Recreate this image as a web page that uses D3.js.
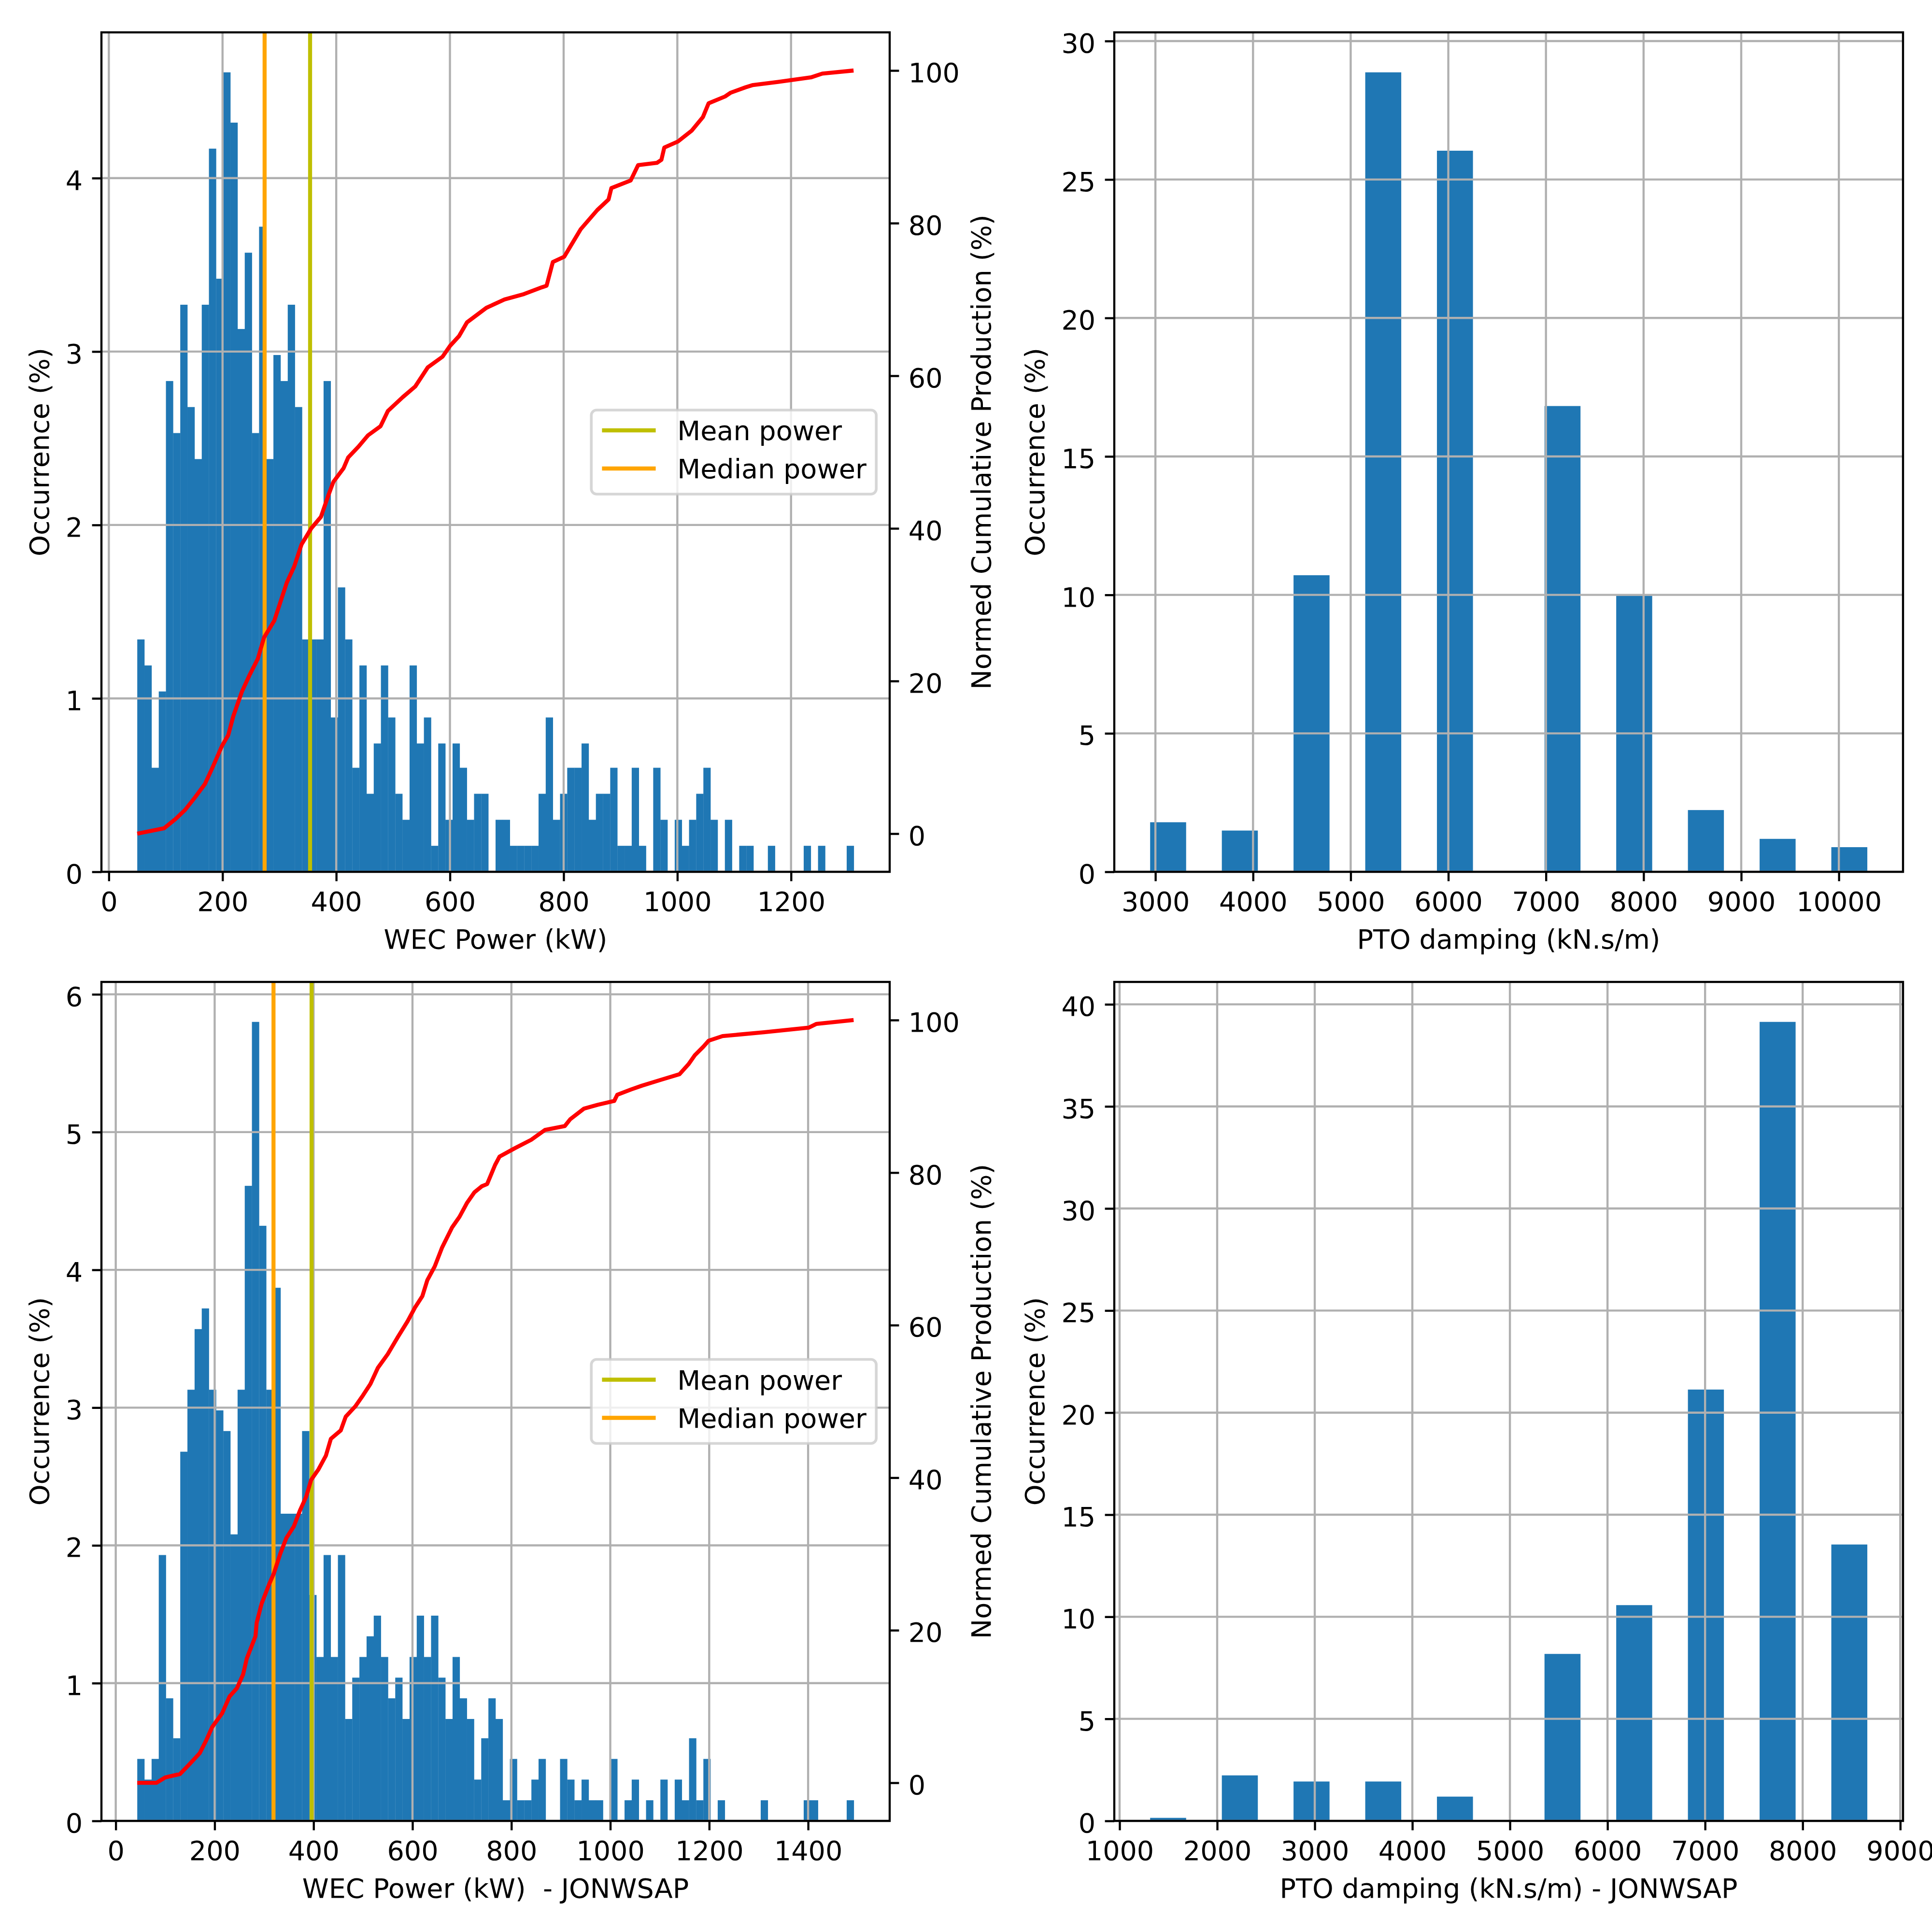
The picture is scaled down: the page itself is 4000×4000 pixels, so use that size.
<!DOCTYPE html>
<html>
<head>
<meta charset="utf-8">
<script src="https://cdn.jsdelivr.net/npm/d3@7"></script>
<style>
  body { margin: 0; background: #fff; }
  svg text { font-family: "DejaVu Sans", sans-serif; fill: #000; white-space: pre; }
</style>
</head>
<body>
<svg id="fig" width="4000" height="4000"></svg>
<script>
// ---- Data ----

// WEC power histogram (100 bins, occurrence %) - standard spectrum
var powerRange = [50, 1310.5];
var powerOccurrence = [
  1.34,1.19,0.60,1.04,2.83,2.53,3.27,2.68,2.38,3.27,
  4.17,3.42,4.61,4.32,3.13,3.57,2.53,3.72,2.38,2.98,
  2.83,3.27,2.68,1.34,1.34,1.34,2.83,0.89,1.64,1.34,
  0.60,1.19,0.45,0.74,1.19,0.89,0.45,0.30,1.19,0.74,
  0.89,0.15,0.74,0.30,0.74,0.60,0.30,0.45,0.45,0,
  0.30,0.30,0.15,0.15,0.15,0.15,0.45,0.89,0.30,0.45,
  0.60,0.60,0.74,0.30,0.45,0.45,0.60,0.15,0.15,0.60,
  0.15,0,0.60,0.30,0,0.30,0.15,0.30,0.45,0.60,
  0.30,0,0.30,0,0.15,0.15,0,0,0.15,0,
  0,0,0,0.15,0,0.15,0,0,0,0.15
];
var powerMean = 354, powerMedian = 274;
var cumPower = [50,97,117,134,151,169,182,199,210,219,234,247,262,273,291,302,313,326,339,356,373,386,395,413,421,439,456,478,491,517,539,561,587,600,616,630,664,696,730,762,770,781,801,830,859,879,884,918,931,964,972,977,1001,1025,1045,1055,1084,1094,1120,1133,1177,1235,1255,1310];
var cumProd  = [0,0.7,1.9,3.1,4.7,6.5,8.6,11.5,12.9,15.4,18.6,20.7,22.9,25.7,27.9,30.4,32.9,35.0,37.9,40.0,41.5,44.3,46.1,47.9,49.3,50.7,52.2,53.4,55.4,57.2,58.6,61.1,62.5,63.9,65.2,67.0,68.9,70.0,70.7,71.6,71.8,74.9,75.6,79.2,81.7,83.1,84.6,85.6,87.6,87.9,88.3,89.9,90.7,92.1,93.9,95.7,96.6,97.1,97.8,98.1,98.5,99.1,99.6,100];

// WEC power histogram - JONSWAP
var powerRangeJ = [43.5, 1492.5];
var powerOccurrenceJ = [
  0.45,0.30,0.45,1.93,0.89,0.60,2.68,3.13,3.57,3.72,
  3.13,2.98,2.83,2.08,3.13,4.61,5.80,4.32,3.13,3.87,
  2.23,2.23,2.23,2.83,1.64,1.19,1.93,1.19,1.93,0.74,
  1.04,1.19,1.34,1.49,1.19,0.89,1.04,0.74,1.19,1.49,
  1.19,1.49,1.04,0.74,1.19,0.89,0.74,0.30,0.60,0.89,
  0.74,0.15,0.45,0.15,0.15,0.30,0.45,0,0,0.45,
  0.30,0.15,0.30,0.15,0.15,0,0.45,0,0.15,0.30,
  0,0.15,0,0.30,0,0.30,0.15,0.60,0.15,0.45,
  0,0.15,0,0,0,0,0,0.15,0,0,
  0,0,0,0.15,0.15,0,0,0,0,0.15
];
var powerMeanJ = 396, powerMedianJ = 319;
var cumPowerJ = [43.5,82.5,100,130,150,170,182.5,195,215,230,245,257.5,265,282.5,285,295,310,320,332.5,345,360,372.5,385,395,410,425,435,455,465,485,500,515,530,550,570,590,605,620,630,645,660,680,695,710,725,740,751,767,776,807,840,868,908,919,947,975,1008,1014,1042,1064,1104,1140,1158,1171,1188,1199,1227,1311,1401,1417,1492];
var cumProdJ  = [0,0,0.7,1.15,2.5,3.9,5.5,7.3,9.1,11.3,12.4,14.2,16.3,19.2,21.0,23.5,26.0,27.5,30.0,32.1,33.6,35.7,37.5,39.7,41.1,42.9,45.1,46.2,48.0,49.4,50.8,52.3,54.4,56.2,58.4,60.5,62.3,63.8,65.9,67.7,70.2,72.8,74.2,76.0,77.4,78.2,78.5,81.0,82.1,83.2,84.3,85.6,86.1,87.0,88.4,88.9,89.4,90.2,90.9,91.4,92.2,92.9,94.2,95.4,96.5,97.3,97.9,98.4,99.0,99.5,100];

// PTO damping histograms (20 bins, occurrence %)
var dampRange = [2946, 10290];
var dampOccurrence = [1.79,0,1.49,0,10.71,0,28.87,0,26.04,0,0,16.82,0,9.97,0,2.23,0,1.19,0,0.89];
var dampRangeJ = [1313, 8661];
var dampOccurrenceJ = [0.15,0,2.23,0,1.93,0,1.93,0,1.19,0,0,8.18,0,10.57,0,21.13,0,39.14,0,13.54];

// Tick labels
var powerTicks = [0,200,400,600,800,1000,1200];
var powerTicksJ = [0,200,400,600,800,1000,1200,1400];
var dampTicks = [3000,4000,5000,6000,7000,8000,9000,10000];
var dampTicksJ = [1000,2000,3000,4000,5000,6000,7000,8000,9000];
var cumTicks = [0,20,40,60,80,100];

// ---- Style (matplotlib defaults at 400 dpi) ----
var FS = 55.6, TICK = 19.4, PAD = 19.4, LW = 4.4, LINE = 8.3
  , GRID = "#b0b0b0", BLUE = "#1f77b4", MEAN = "#bfbf00", MEDIAN = "#ffa500";

var svg = d3.select("#fig");
svg.append("rect").attr("width", 4000).attr("height", 4000).attr("fill", "#fff");

function styleAxis(ag) {
  ag.select(".domain").remove();
  ag.attr("font-size", FS).attr("font-family", "DejaVu Sans");
  ag.selectAll(".tick line").attr("stroke", "#000").attr("stroke-width", LW);
}

function maxWidth(sel) {
  var w = 0;
  sel.selectAll(".tick text").each(function () { w = Math.max(w, this.getBBox().width); });
  return w;
}

// One histogram panel; returns scales for overlays
function histPanel(box, o) {
  var g = svg.append("g");
  var W = o.range[1] - o.range[0];
  var x = d3.scaleLinear().domain([o.range[0] - 0.05 * W, o.range[1] + 0.05 * W]).range([box.left, box.right]);
  var y = d3.scaleLinear().domain([0, d3.max(o.values) * 1.05]).range([box.bottom, box.top]);
  var step = W / o.values.length;

  var bins = o.values.map(function (v, i) {
    return { lo: o.range[0] + i * step, hi: o.range[0] + (i + 1) * step, v: v };
  }).filter(function (d) { return d.v > 0; });

  g.append("g").selectAll("rect").data(bins).join("rect")
    .attr("x", function (d) { return x(d.lo); })
    .attr("width", function (d) { return x(d.hi) - x(d.lo) + 0.3; })
    .attr("y", function (d) { return y(d.v); })
    .attr("height", function (d) { return y(0) - y(d.v); })
    .attr("fill", BLUE);

  // grid (drawn over the bars like matplotlib's default)
  var grid = g.append("g").attr("stroke", GRID).attr("stroke-width", LW);
  grid.selectAll(".gx").data(o.xTicks).join("line")
    .attr("x1", x).attr("x2", x).attr("y1", box.top).attr("y2", box.bottom);
  grid.selectAll(".gy").data(o.yTicks).join("line")
    .attr("y1", y).attr("y2", y).attr("x1", box.left).attr("x2", box.right);

  var xa = g.append("g").attr("transform", "translate(0," + box.bottom + ")")
    .call(d3.axisBottom(x).tickValues(o.xTicks).tickFormat(d3.format("d"))
      .tickSize(TICK).tickPadding(PAD).tickSizeOuter(0));
  styleAxis(xa);
  xa.selectAll(".tick text").attr("dy", "0.76em");

  var ya = g.append("g").attr("transform", "translate(" + box.left + ",0)")
    .call(d3.axisLeft(y).tickValues(o.yTicks).tickFormat(d3.format("d"))
      .tickSize(TICK).tickPadding(PAD).tickSizeOuter(0));
  styleAxis(ya);
  ya.selectAll(".tick text").attr("dy", "0.42em");

  g.append("text").attr("x", (box.left + box.right) / 2)
    .attr("y", box.bottom + TICK + PAD + FS + 22.2 + 0.76 * FS)
    .attr("text-anchor", "middle").attr("font-size", FS).text(o.xLabel);

  var lx = box.left - TICK - PAD - maxWidth(ya) - 22.2 - 13;
  g.append("text")
    .attr("transform", "translate(" + lx + "," + (box.top + box.bottom) / 2 + ") rotate(-90)")
    .attr("text-anchor", "middle").attr("font-size", FS).text(o.yLabel);

  return { g: g, x: x, y: y };
}

function frame(box) {
  svg.append("rect").attr("x", box.left).attr("y", box.top)
    .attr("width", box.right - box.left).attr("height", box.bottom - box.top)
    .attr("fill", "none").attr("stroke", "#000").attr("stroke-width", LW);
}

// Mean/median lines, cumulative production on twin axis, legend
function overlay(box, p, o) {
  var g = svg.append("g");
  [[o.median, MEDIAN], [o.mean, MEAN]].forEach(function (m) {
    g.append("line").attr("x1", p.x(m[0])).attr("x2", p.x(m[0]))
      .attr("y1", box.top).attr("y2", box.bottom)
      .attr("stroke", m[1]).attr("stroke-width", LINE);
  });
  frame(box);

  var y2 = d3.scaleLinear().domain([-5, 105]).range([box.bottom, box.top]);
  var pts = d3.zip(o.cx, o.cy);
  g.append("path").datum(pts)
    .attr("d", d3.line().x(function (d) { return p.x(d[0]); }).y(function (d) { return y2(d[1]); }))
    .attr("fill", "none").attr("stroke", "#ff0000").attr("stroke-width", LINE)
    .attr("stroke-linejoin", "round");

  var ra = g.append("g").attr("transform", "translate(" + box.right + ",0)")
    .call(d3.axisRight(y2).tickValues(cumTicks).tickFormat(d3.format("d"))
      .tickSize(TICK).tickPadding(PAD).tickSizeOuter(0));
  styleAxis(ra);
  ra.selectAll(".tick text").attr("dy", "0.42em");

  var rx = box.right + TICK + PAD + maxWidth(ra) + 22.2 + 0.76 * FS;
  g.append("text")
    .attr("transform", "translate(" + rx + "," + (box.top + box.bottom) / 2 + ") rotate(-90)")
    .attr("text-anchor", "middle").attr("font-size", FS)
    .text("Normed Cumulative Production (%)");

  // legend, loc = center right
  var lw = 590, lh = 174
    , lx = box.right - 27.8 - lw
    , ly = (box.top + box.bottom) / 2 - lh / 2;
  var lg = g.append("g").attr("transform", "translate(" + lx + "," + ly + ")");
  lg.append("rect").attr("width", lw).attr("height", lh).attr("rx", 11)
    .attr("fill", "#fff").attr("fill-opacity", 0.8)
    .attr("stroke", "#cccccc").attr("stroke-opacity", 0.8).attr("stroke-width", 5.6);
  [["Mean power", MEAN, 42], ["Median power", MEDIAN, 121]].forEach(function (e) {
    lg.append("line").attr("x1", 22.2).attr("x2", 133.4).attr("y1", e[2]).attr("y2", e[2])
      .attr("stroke", e[1]).attr("stroke-width", LINE);
    lg.append("text").attr("x", 178).attr("y", e[2]).attr("dy", "0.36em")
      .attr("font-size", FS).text(e[0]);
  });
}

// ---- Panels ----
var boxTL = { left: 210, top: 67, right: 1842, bottom: 1805 }
  , boxTR = { left: 2307, top: 67, right: 3940, bottom: 1805 }
  , boxBL = { left: 210, top: 2033, right: 1842, bottom: 3770 }
  , boxBR = { left: 2307, top: 2033, right: 3940, bottom: 3770 };

var pTL = histPanel(boxTL, {
  range: powerRange, values: powerOccurrence,
  xTicks: powerTicks, yTicks: [0,1,2,3,4],
  xLabel: "WEC Power (kW)", yLabel: "Occurrence (%)"
});
overlay(boxTL, pTL, { mean: powerMean, median: powerMedian, cx: cumPower, cy: cumProd });

histPanel(boxTR, {
  range: dampRange, values: dampOccurrence,
  xTicks: dampTicks, yTicks: [0,5,10,15,20,25,30],
  xLabel: "PTO damping (kN.s/m)", yLabel: "Occurrence (%)"
});
frame(boxTR);

var pBL = histPanel(boxBL, {
  range: powerRangeJ, values: powerOccurrenceJ,
  xTicks: powerTicksJ, yTicks: [0,1,2,3,4,5,6],
  xLabel: "WEC Power (kW)  - JONWSAP", yLabel: "Occurrence (%)"
});
overlay(boxBL, pBL, { mean: powerMeanJ, median: powerMedianJ, cx: cumPowerJ, cy: cumProdJ });

histPanel(boxBR, {
  range: dampRangeJ, values: dampOccurrenceJ,
  xTicks: dampTicksJ, yTicks: [0,5,10,15,20,25,30,35,40],
  xLabel: "PTO damping (kN.s/m) - JONWSAP", yLabel: "Occurrence (%)"
});
frame(boxBR);
</script>
</body>
</html>
